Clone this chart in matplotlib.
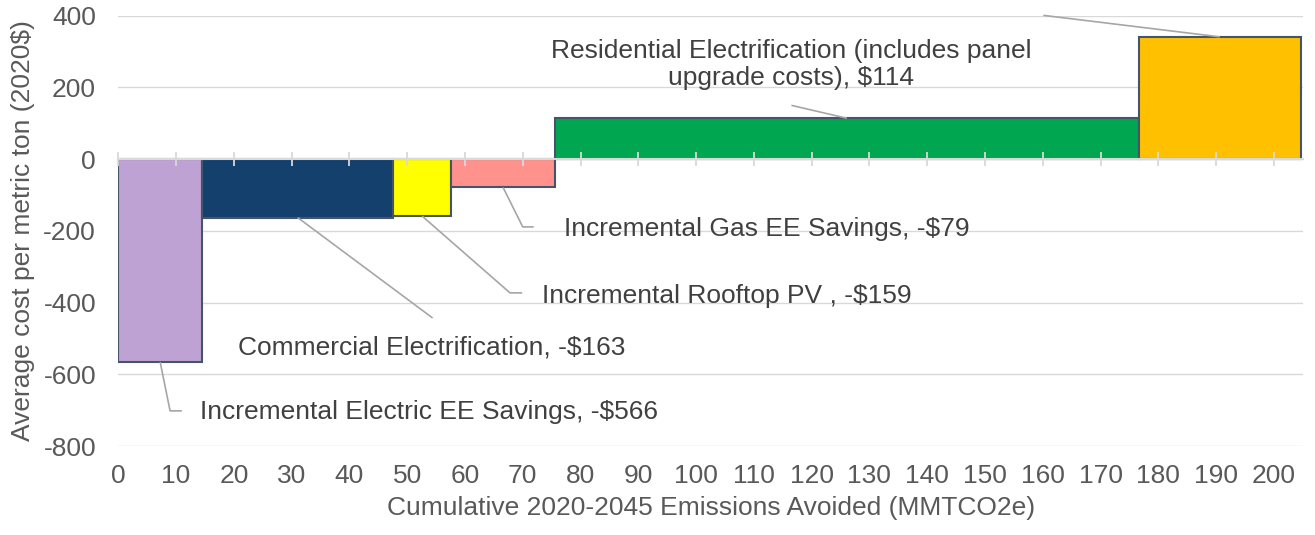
import numpy as np
import matplotlib
matplotlib.use("Agg")
import matplotlib.pyplot as plt

plt.rcParams["font.family"] = ["Liberation Sans", "DejaVu Sans"]
plt.rcParams["axes.unicode_minus"] = False

# ----------------------------------------------------------
# data
# ----------------------------------------------------------
measures = [
    "Incremental Electric EE Savings",
    "Commercial Electrification",
    "Incremental Rooftop PV ",
    "Incremental Gas EE Savings",
    "Residential Electrification (includes panel\nupgrade costs)",
    "",
]
cost = [-566, -163, -159, -79, 114, 341]           # $/metric ton (2020$)
avoided = [14.5, 33.1, 10.0, 18.0, 101.0, 28.1]    # MMTCO2e
colors = ["#bfa2d4", "#14406e", "#ffff00", "#ff928c", "#00a650", "#ffc000"]

x_ticks = np.arange(0, 201, 10)
y_ticks = np.arange(-800, 401, 200)

# label placement (text position, elbow/end of leader line)
label_pos = [
    dict(text=(14.15, -705), ha="left", pts=[(8.96, -702), (11.0, -702)]),
    dict(text=(20.7, -524), ha="left", pts=[(54.4, -443)]),
    dict(text=(73.3, -382), ha="left", pts=[(67.8, -373), (69.9, -373)]),
    dict(text=(77.1, -195), ha="left", pts=[(70.0, -189), (71.9, -189)]),
    dict(text=(116.4, 264), ha="center", pts=[(116.5, 150)]),
    dict(text=None, ha="center", pts=[(160.1, 401)]),
]

TXT = "#595959"
LBL = "#404040"
GRID = "#d9d9d9"
LEAD = "#a6a6a6"
FS = 19

fig = plt.figure(figsize=(13.15, 5.35), dpi=100)
ax = fig.add_axes([118.3 / 1315, 89 / 535, 1185 / 1315, 430.3 / 535])

left = np.concatenate([[0], np.cumsum(avoided)[:-1]])
ax.bar(left, cost, width=avoided, align="edge", color=colors,
       edgecolor="#44546a", linewidth=1.5, zorder=3)

ax.set_xlim(0, sum(avoided) + 0.4)
ax.set_ylim(-800, 400)
ax.set_xticks(x_ticks)
ax.set_yticks(y_ticks)
ax.grid(axis="y", color=GRID, linewidth=1.0, zorder=0)
ax.set_axisbelow(True)
for s in ax.spines.values():
    s.set_visible(False)
ax.tick_params(axis="both", length=0, labelsize=FS, colors=TXT)
ax.tick_params(axis="y", pad=16)
ax.tick_params(axis="x", pad=13)

ax.set_xlabel("Cumulative 2020-2045 Emissions Avoided (MMTCO2e)",
              fontsize=FS, color=TXT, labelpad=6)
ax.set_ylabel("Average cost per metric ton (2020$)", fontsize=FS,
              color=TXT, labelpad=6)

# horizontal axis line at zero, with tick marks crossing it
zero = ax.secondary_xaxis(800 / 1200)
zero.set_xticks(x_ticks)
zero.tick_params(axis="x", direction="inout", length=10, width=1.3,
                 color=GRID, labelbottom=False, labeltop=False)
zero.spines["bottom"].set_visible(False)
zero.spines["top"].set_color(GRID)
zero.spines["top"].set_linewidth(1.5)
zero.set_zorder(4)

# data labels with leader lines
for i, name in enumerate(measures):
    xc = left[i] + avoided[i] / 2
    pts = [(xc, cost[i])] + label_pos[i]["pts"]
    xs, ys = zip(*pts)
    ax.plot(xs, ys, color=LEAD, linewidth=1.2, zorder=5, clip_on=False,
            solid_capstyle="butt")
    if label_pos[i]["text"] is not None:
        tx, ty = label_pos[i]["text"]
        v = cost[i]
        val = f"-${abs(v)}" if v < 0 else f"${v}"
        ax.text(tx, ty, f"{name}, {val}", ha=label_pos[i]["ha"], va="center",
                fontsize=FS, color=LBL, linespacing=1.2, zorder=6)

fig.savefig("out.png", dpi=100)
